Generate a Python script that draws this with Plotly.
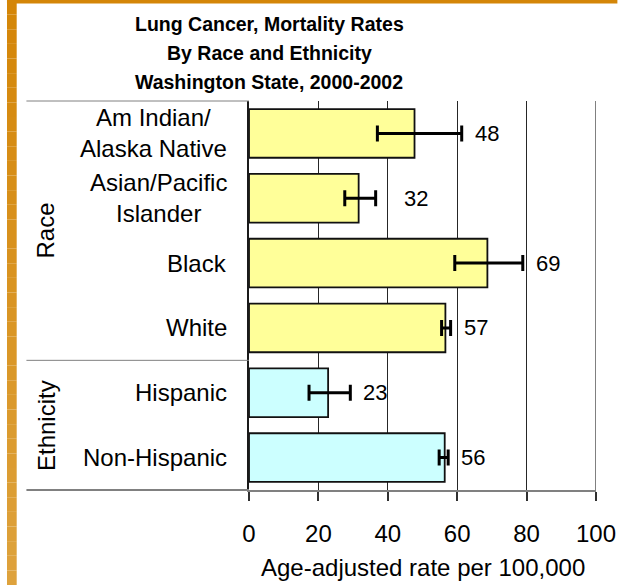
import plotly.graph_objects as go

# ---- data ----
categories = ["Am Indian/<br>Alaska Native", "Asian/Pacific<br>Islander", "Black",
              "White", "Hispanic", "Non-Hispanic"]
groups = ["Race", "Race", "Race", "Race", "Ethnicity", "Ethnicity"]
rates = [47.7, 31.6, 68.7, 56.6, 22.8, 56.4]
ci_low = [37.0, 27.6, 59.3, 55.5, 17.3, 54.8]
ci_high = [61.3, 36.5, 78.9, 58.1, 29.2, 57.4]
x_ticks = [0, 20, 40, 60, 80, 100]
title_lines = ["Lung Cancer, Mortality Rates", "By Race and Ethnicity",
               "Washington State, 2000-2002"]
x_title = "Age-adjusted rate per 100,000"

# ---- layout geometry (pixels) ----
W, H = 628, 585
L, R, T, B = 249, 22, 101, 95
pw = W - L - R
ph = H - T - B
FONT = "Liberation Sans, Arial, sans-serif"


def px_x(px):
    return (px - L) / pw


def px_y(py):
    return (H - B - py) / ph


n = len(categories)
y_idx = list(range(n))
group_colors = {"Race": "#FFFF99", "Ethnicity": "#CCFFFF"}
colors = [group_colors[g] for g in groups]

fig = go.Figure()
fig.add_trace(go.Bar(
    x=rates, y=y_idx, orientation="h",
    marker=dict(color=colors, line=dict(color="#111111", width=1.8)),
    width=0.75,
    error_x=dict(type="data", symmetric=False,
                 array=[h - r for h, r in zip(ci_high, rates)],
                 arrayminus=[r - l for r, l in zip(rates, ci_low)],
                 color="black", thickness=3, width=8),
    hoverinfo="skip",
))

annotations = []
# title lines
title_dy = [77, 48, 19]
for line, dy in zip(title_lines, title_dy):
    annotations.append(dict(text=f"<b>{line}</b>", xref="paper", yref="paper",
                            x=px_x(270), y=1, yshift=dy, xanchor="center",
                            yanchor="middle", showarrow=False,
                            font=dict(family=FONT, size=19.5, color="black")))
# category labels
for i, c in enumerate(categories):
    annotations.append(dict(text=c, xref="paper", yref="y", x=0, y=i, xshift=-20,
                            xanchor="right", yanchor="middle", align="center",
                            showarrow=False,
                            font=dict(family=FONT, size=24, color="black")))
# value labels
label_shift = {1: 26}
for i, (r, h) in enumerate(zip(rates, ci_high)):
    annotations.append(dict(text=f"{r:.0f}", xref="x", yref="y", x=h, y=i,
                            xshift=label_shift.get(i, 11), xanchor="left",
                            yanchor="middle", showarrow=False,
                            font=dict(family=FONT, size=22, color="black")))
# group labels
seen = []
for g in groups:
    if g not in seen:
        seen.append(g)
bounds = [-0.5]
for g in seen:
    idx = [i for i, gg in enumerate(groups) if gg == g]
    center = (idx[0] + idx[-1]) / 2
    bounds.append(idx[-1] + 0.5)
    annotations.append(dict(text=g, xref="paper", yref="y", x=px_x(40), y=center,
                            xanchor="center", yanchor="middle", textangle=-90,
                            showarrow=False,
                            font=dict(family=FONT, size=24, color="black")))
# x axis title
annotations.append(dict(text=x_title, xref="paper", yref="paper", x=0.5, y=0,
                        yshift=-77, xanchor="center", yanchor="middle",
                        showarrow=False,
                        font=dict(family=FONT, size=24, color="black")))

ymax = n - 0.5


def yb(v):
    return (ymax - v) / n


shapes = []
# table lines on the left
for k, b in enumerate(bounds):
    shapes.append(dict(type="line", xref="paper", yref="paper",
                       x0=px_x(20), x1=0, y0=yb(b), y1=yb(b),
                       line=dict(color="#808080", width=2 if k == len(bounds) - 1 else 1)))
# gray gridline at 100
shapes.append(dict(type="line", xref="x", yref="paper", x0=100, x1=100, y0=0, y1=1,
                   line=dict(color="#808080", width=2)))
# orange frame (gradient on the left)
steps = 40
c0 = (0xD4, 0x86, 0x08)
c1 = (0xDE, 0xA2, 0x3C)
for s in range(steps):
    t = s / (steps - 1)
    col = "rgb({},{},{})".format(*[round(a + (b_ - a) * t) for a, b_ in zip(c0, c1)])
    shapes.append(dict(type="rect", xref="paper", yref="paper",
                       x0=px_x(0), x1=px_x(10),
                       y0=px_y(H * (s + 1) / steps), y1=px_y(H * s / steps),
                       fillcolor=col, line=dict(width=0), layer="above"))
shapes.append(dict(type="rect", xref="paper", yref="paper",
                   x0=px_x(0), x1=px_x(W), y0=px_y(3.5), y1=px_y(0),
                   fillcolor="rgb(212,134,8)", line=dict(width=0), layer="above"))

fig.update_layout(
    width=W, height=H,
    margin=dict(l=L, r=R, t=T, b=B, pad=0),
    paper_bgcolor="white", plot_bgcolor="white",
    showlegend=False, bargap=0.25,
    font=dict(family=FONT, color="black"),
    xaxis=dict(range=[0, 100], tickvals=x_ticks, ticktext=[str(v) for v in x_ticks],
               showgrid=True, gridcolor="#262626", gridwidth=1,
               showline=True, linecolor="#808080", linewidth=2,
               ticks="outside", ticklen=9, tickcolor="#303030", tickwidth=1.5,
               tickfont=dict(family=FONT, size=24, color="black"),
               ticklabelstandoff=12, zeroline=False, fixedrange=True),
    yaxis=dict(range=[ymax, -0.5], showticklabels=False, showgrid=False,
               zeroline=False, showline=True, linecolor="#1a1a1a", linewidth=2,
               ticks="", fixedrange=True),
    annotations=annotations, shapes=shapes,
)

fig.write_html("out.html", config={"displayModeBar": False},
               post_script="document.body.style.margin='0';document.body.style.overflow='hidden';")
